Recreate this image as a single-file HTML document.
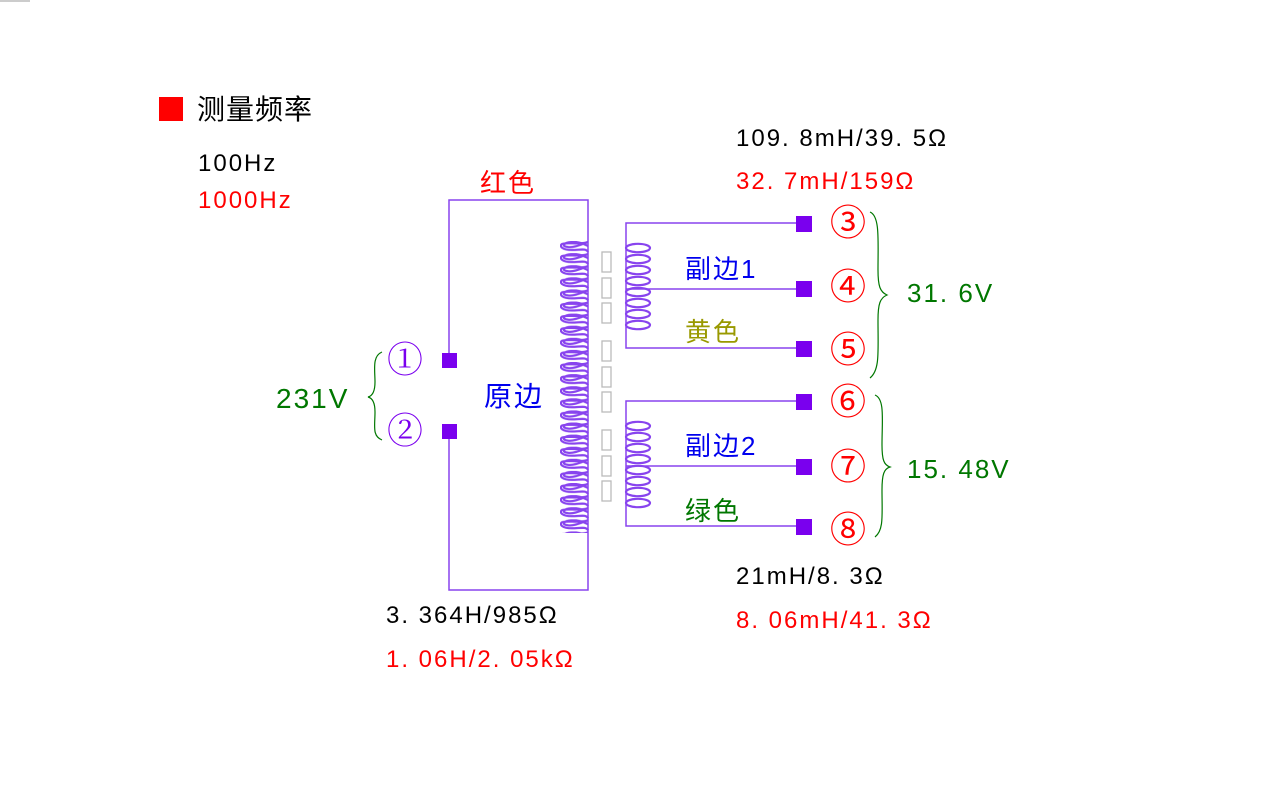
<!DOCTYPE html>
<html><head><meta charset="utf-8"><style>
body{margin:0;background:#fff;}
svg text{font-family:"Liberation Sans","Noto Sans CJK SC",sans-serif;letter-spacing:2px;}
</style></head><body>
<svg width="1280" height="800" xmlns="http://www.w3.org/2000/svg">
<defs>
<pattern id="pc" x="560" y="241" width="40" height="12.1" patternUnits="userSpaceOnUse">
<path d="M28,1 C20,4 6,1 2,3 C-1,5 2,9 12,9 C20,9 26,7 28,11" fill="none" stroke="#8844ee" stroke-width="2.2"/>
<path d="M28,1 C22,3 14,7 8,6 C0,5 4,1 14,1 C20,1 24,3 28,5" fill="none" stroke="#8844ee" stroke-width="2.2"/>
</pattern>
<pattern id="sc" x="0" y="243" width="40" height="11" patternUnits="userSpaceOnUse">
<ellipse cx="638" cy="5.5" rx="12" ry="4.2" fill="none" stroke="#8844ee" stroke-width="2.2"/>
</pattern>
<pattern id="sc2" x="0" y="421" width="40" height="11" patternUnits="userSpaceOnUse">
<ellipse cx="638" cy="5.5" rx="12" ry="4.2" fill="none" stroke="#8844ee" stroke-width="2.2"/>
</pattern>
</defs>
<rect x="0" y="0" width="30" height="2" fill="#ccc"/>
<rect x="159" y="97" width="24" height="24" fill="#f00"/>
<text x="197" y="119" font-size="28" fill="#000" style="letter-spacing:1px">测量频率</text>
<text x="198" y="171" font-size="24" fill="#000">100Hz</text>
<text x="198" y="208" font-size="24" fill="#f00">1000Hz</text>
<g stroke="#8844ee" stroke-width="1.5" fill="none">
<polyline points="449,360 449,200 588,200 588,240"/>
<polyline points="449,432 449,590 588,590 588,535"/>
<polyline points="804,223 626,223 626,348 804,348"/>
<line x1="626" y1="289" x2="804" y2="289"/>
<polyline points="804,401 626,401 626,526 804,526"/>
<line x1="626" y1="466" x2="804" y2="466"/>
<line x1="588" y1="240" x2="588" y2="535"/>
</g>
<rect x="560" y="241" width="30" height="292" fill="url(#pc)"/>
<g fill="none" stroke="#8844ee" stroke-width="2.2">
<ellipse cx="638" cy="248" rx="12" ry="4.2"/><ellipse cx="638" cy="259" rx="12" ry="4.2"/><ellipse cx="638" cy="270" rx="12" ry="4.2"/><ellipse cx="638" cy="281" rx="12" ry="4.2"/>
<ellipse cx="638" cy="292" rx="12" ry="4.2"/><ellipse cx="638" cy="303" rx="12" ry="4.2"/><ellipse cx="638" cy="314" rx="12" ry="4.2"/><ellipse cx="638" cy="325" rx="12" ry="4.2"/>
<ellipse cx="638" cy="426" rx="12" ry="4.2"/><ellipse cx="638" cy="437" rx="12" ry="4.2"/><ellipse cx="638" cy="448" rx="12" ry="4.2"/><ellipse cx="638" cy="459" rx="12" ry="4.2"/>
<ellipse cx="638" cy="470" rx="12" ry="4.2"/><ellipse cx="638" cy="481" rx="12" ry="4.2"/><ellipse cx="638" cy="492" rx="12" ry="4.2"/><ellipse cx="638" cy="503" rx="12" ry="4.2"/>
</g>
<g fill="none" stroke="#bbb" stroke-width="1.3">
<rect x="602" y="252" width="9" height="20"/><rect x="602" y="278" width="9" height="20"/><rect x="602" y="303" width="9" height="20"/>
<rect x="602" y="341" width="9" height="20"/><rect x="602" y="367" width="9" height="20"/><rect x="602" y="392" width="9" height="20"/>
<rect x="602" y="430" width="9" height="20"/><rect x="602" y="456" width="9" height="20"/><rect x="602" y="481" width="9" height="20"/>
</g>
<g fill="#7a00ee">
<rect x="442" y="353" width="15" height="15"/><rect x="442" y="424" width="15" height="15"/>
<rect x="796" y="216" width="16" height="16"/><rect x="796" y="281" width="16" height="16"/><rect x="796" y="341" width="16" height="16"/>
<rect x="796" y="394" width="16" height="16"/><rect x="796" y="459" width="16" height="16"/><rect x="796" y="519" width="16" height="16"/>
</g>
<g font-size="36" text-anchor="middle">
<text x="405" y="372" fill="#7a00ee" style="font-family:'Noto Serif CJK SC','Liberation Serif',serif;letter-spacing:0">①</text>
<text x="405" y="443" fill="#7a00ee" style="font-family:'Noto Serif CJK SC','Liberation Serif',serif;letter-spacing:0">②</text>
<g fill="#f00" style="font-family:'Noto Serif CJK SC','Liberation Serif',serif;letter-spacing:0">
<text x="849" y="235">③</text><text x="849" y="299">④</text><text x="849" y="362">⑤</text>
<text x="849" y="414">⑥</text><text x="849" y="479">⑦</text><text x="849" y="542">⑧</text>
</g></g>
<g fill="none" stroke="#007700" stroke-width="1.2">
<path d="M382,352 C372,356 375,370 375,382 C375,392 372,396 368,397 C372,398 375,402 375,412 C375,426 372,436 382,440"/>
<path d="M870,212 C880,216 878,240 878,270 C878,286 880,292 887,295 C880,298 878,304 878,320 C878,352 880,370 870,378"/>
<path d="M875,395 C885,399 882,420 882,445 C882,460 884,465 890,467 C884,469 882,474 882,490 C882,515 884,530 875,537"/>
</g>
<text x="276" y="408" font-size="28" fill="#007700">231V</text>
<text x="907" y="302" font-size="26" fill="#007700">31. 6V</text>
<text x="907" y="478" font-size="26" fill="#007700">15. 48V</text>
<text x="480" y="192" font-size="26" fill="#f00">红色</text>
<text x="484" y="406" font-size="28" fill="#0000ee">原边</text>
<text x="685" y="278" font-size="26" fill="#0000ee">副边1</text>
<text x="685" y="341" font-size="26" fill="#999900">黄色</text>
<text x="685" y="455" font-size="26" fill="#0000ee">副边2</text>
<text x="685" y="520" font-size="26" fill="#007700">绿色</text>
<text x="736" y="146" font-size="24" fill="#000">109. 8mH/39. 5Ω</text>
<text x="736" y="189" font-size="24" fill="#f00">32. 7mH/159Ω</text>
<text x="736" y="584" font-size="24" fill="#000">21mH/8. 3Ω</text>
<text x="736" y="628" font-size="24" fill="#f00">8. 06mH/41. 3Ω</text>
<text x="386" y="623" font-size="24" fill="#000">3. 364H/985Ω</text>
<text x="386" y="667" font-size="24" fill="#f00">1. 06H/2. 05kΩ</text>
</svg>
</body></html>
